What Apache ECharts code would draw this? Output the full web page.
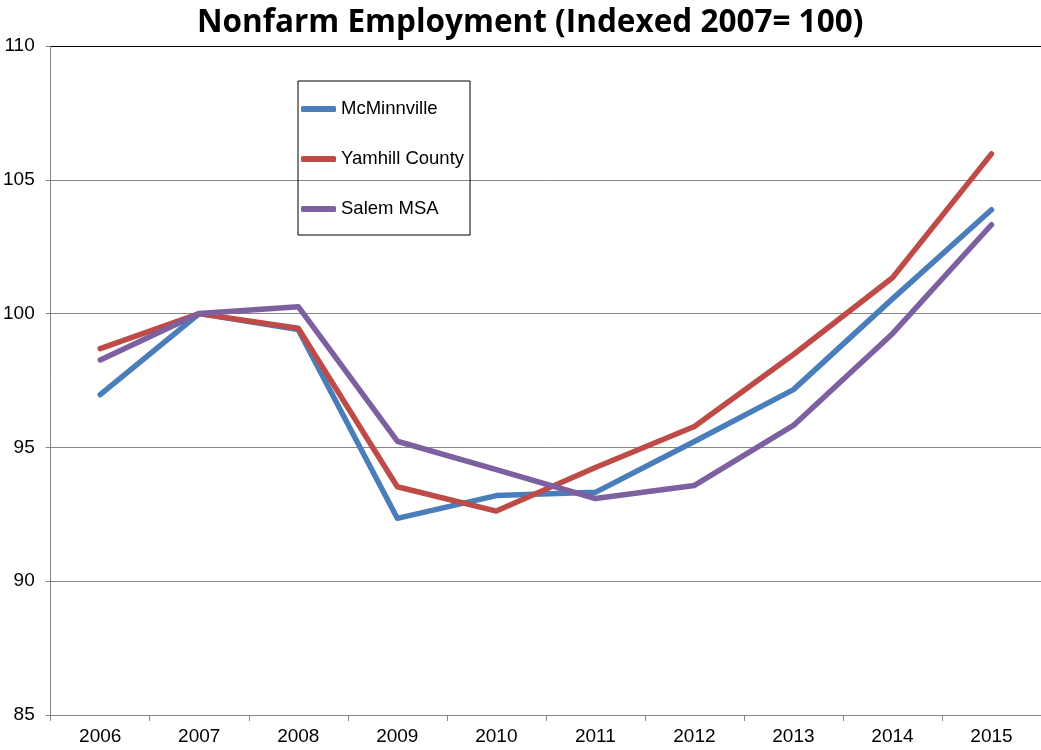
<!DOCTYPE html>
<html>
<head>
<meta charset="utf-8">
<script src="https://cdn.jsdelivr.net/npm/echarts@6/dist/echarts.min.js"></script>
<style>
  html, body { margin: 0; padding: 0; background: #fff; }
  #chart { width: 1041px; height: 750px; }
</style>
</head>
<body>
<div id="chart"></div>
<script>
// years on the x axis
const years = ['2006', '2007', '2008', '2009', '2010', '2011', '2012', '2013', '2014', '2015'];

// index values, 2007 = 100
const mcminnville = [96.97, 100, 99.4, 92.35, 93.2, 93.32, 95.22, 97.16, 100.55, 103.88];
const yamhill = [98.69, 100, 99.45, 93.53, 92.62, 94.25, 95.78, 98.47, 101.34, 105.97];
const salem = [98.27, 100, 100.26, 95.23, 94.17, 93.09, 93.58, 95.82, 99.25, 103.32];

const seriesNames = ['McMinnville', 'Yamhill County', 'Salem MSA'];
const seriesColors = ['#4A7EBB', '#BE4B48', '#7D60A0'];

const chart = echarts.init(document.getElementById('chart'));

const makeLine = (name, data, color) => ({
    name: name,
    type: 'line',
    data: data,
    symbol: 'none',
    color: color,
    lineStyle: { color: color, width: 5.5, cap: 'round', join: 'round' }
});

const options = {
    animation: false,
    title: {
        text: 'Nonfarm Employment (Indexed 2007= 100)',
        left: 192,
        top: 2,
        textStyle: {
            fontFamily: 'Open Sans',
            fontWeight: 'bold',
            fontSize: 31.5,
            color: '#000'
        }
    },
    legend: {
        orient: 'vertical',
        left: 298,
        top: 81,
        padding: [18, 6, 16, 3],
        itemGap: 30,
        itemWidth: 35,
        itemHeight: 6,
        icon: 'roundRect',
        borderColor: '#000',
        borderWidth: 1,
        textStyle: { fontFamily: 'Liberation Sans', fontSize: 18.5, lineHeight: 20, color: '#000' },
        data: seriesNames
    },
    grid: { left: 50, right: 0, top: 46, bottom: 35 },
    xAxis: {
        type: 'category',
        data: years,
        boundaryGap: true,
        axisLine: { lineStyle: { color: '#868686', width: 1 } },
        axisTick: { show: true, interval: 0, length: 6, lineStyle: { color: '#868686' } },
        axisLabel: { interval: 0, margin: 12, fontFamily: 'Liberation Sans', fontSize: 19, color: '#000' },
        splitLine: { show: false }
    },
    yAxis: {
        type: 'value',
        min: 85,
        max: 110,
        interval: 5,
        axisLine: { show: true, lineStyle: { color: '#868686', width: 1 } },
        axisTick: { show: true, length: 5, lineStyle: { color: '#868686' } },
        axisLabel: { margin: 16, fontFamily: 'Liberation Sans', fontSize: 19, color: '#000' },
        splitLine: {
            show: true,
            lineStyle: { color: ['#868686', '#868686', '#868686', '#868686', '#868686', '#000'], width: 1 }
        }
    },
    series: [
        makeLine(seriesNames[0], mcminnville, seriesColors[0]),
        makeLine(seriesNames[1], yamhill, seriesColors[1]),
        makeLine(seriesNames[2], salem, seriesColors[2])
    ]
};

chart.setOption(options);
</script>
</body>
</html>
